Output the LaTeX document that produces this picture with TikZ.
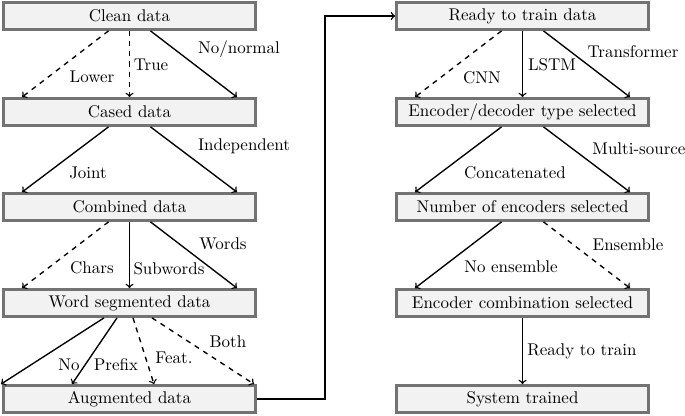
\documentclass[tikz,border=0pt]{standalone}
\usetikzlibrary{calc}

\tikzset{
  stage/.style={rectangle, draw=black!55, line width=1.6pt, fill=black!5,
    minimum width=5.22cm, minimum height=0.56cm, inner sep=2pt},
  lbl/.style={inner sep=1pt},
  flow/.style={->, thick},
}

\begin{document}
\begin{tikzpicture}[x=0.0207cm, y=-0.0207cm]
  \useasboundingbox (0,0) rectangle (685,415);

  % Preparacion de datos
  \node[stage] (clean) at (129.5,16)  {Clean data};
  \node[stage] (cased) at (129.5,112) {Cased data};
  \node[stage] (comb)  at (129.5,207) {Combined data};
  \node[stage] (seg)   at (129.5,303) {Word segmented data};
  \node[stage] (aug)   at (129.5,399) {Augmented data};

  % Entrenamiento
  \node[stage] (ready)   at (522.5,16)  {Ready to train data};
  \node[stage] (enctype) at (522.5,112) {Encoder/decoder type selected};
  \node[stage] (encnum)  at (522.5,207) {Number of encoders selected};
  \node[stage] (enccomb) at (522.5,303) {Encoder combination selected};
  \node[stage] (trained) at (522.5,399) {System trained};

  % Flechas columna izquierda
  \draw[flow, dashed] ($(clean.south)+(-21,0)$) -- ($(cased.north)+(-107.5,0)$);
  \draw[flow, dashed] (clean.south) -- (cased.north);
  \draw[flow] ($(clean.south)+(21,0)$) -- ($(cased.north)+(107.5,0)$);

  \draw[flow] ($(cased.south)+(-21,0)$) -- ($(comb.north)+(-107.5,0)$);
  \draw[flow] ($(cased.south)+(21,0)$) -- ($(comb.north)+(107.5,0)$);

  \draw[flow, dashed] ($(comb.south)+(-21,0)$) -- ($(seg.north)+(-107.5,0)$);
  \draw[flow] (comb.south) -- (seg.north);
  \draw[flow] ($(comb.south)+(21,0)$) -- ($(seg.north)+(107.5,0)$);

  \draw[flow] ($(seg.south)+(-25.5,0)$) -- ($(aug.north)+(-128.5,0)$);
  \draw[flow] ($(seg.south)+(-12.5,0)$) -- ($(aug.north)+(-57.5,0)$);
  \draw[flow, dashed] ($(seg.south)+(3.5,0)$) -- ($(aug.north)+(24.5,0)$);
  \draw[flow, dashed] ($(seg.south)+(22.5,0)$) -- ($(aug.north)+(124.5,0)$);

  % Conexion entre columnas
  \coordinate (turn) at (325,399);
  \draw[flow] (aug.east) -- (turn) |- (ready.west);

  % Flechas columna derecha
  \draw[flow, dashed] ($(ready.south)+(-21,0)$) -- ($(enctype.north)+(-107.5,0)$);
  \draw[flow] (ready.south) -- (enctype.north);
  \draw[flow] ($(ready.south)+(21,0)$) -- ($(enctype.north)+(107.5,0)$);

  \draw[flow] ($(enctype.south)+(-21,0)$) -- ($(encnum.north)+(-107.5,0)$);
  \draw[flow] ($(enctype.south)+(21,0)$) -- ($(encnum.north)+(107.5,0)$);

  \draw[flow] ($(encnum.south)+(-21,0)$) -- ($(enccomb.north)+(-107.5,0)$);
  \draw[flow, dashed] ($(encnum.south)+(21,0)$) -- ($(enccomb.north)+(107.5,0)$);

  \draw[flow] (enccomb.south) -- (trained.north);

  % Etiquetas
  \node[lbl] (lLower)  at (92,77)   {Lower};
  \node[lbl] (lTrue)   at (151,65)  {True};
  \node[lbl] (lNormal) at (239,49)  {No/normal};
  \node[lbl] (lJoint)  at (88,173)  {Joint};
  \node[lbl] (lIndep)  at (244,146) {Independent};
  \node[lbl] (lChars)  at (92,268)  {Chars};
  \node[lbl] (lSub)    at (169,269) {Subwords};
  \node[lbl] (lWords)  at (223,244) {Words};
  \node[lbl] (lBoth)   at (228,342) {Both};
  \node[lbl] (lFeat)   at (174,358) {Feat.};
  \node[lbl] (lPrefix) at (116,365) {Prefix};
  \node[lbl] (lNo)     at (69,365)  {No};
  \node[lbl] (lCNN)    at (482,78)  {CNN};
  \node[lbl] (lLSTM)   at (552,65)  {LSTM};
  \node[lbl] (lTrans)  at (633,52)  {Transformer};
  \node[lbl] (lConcat) at (515,173) {Concatenated};
  \node[lbl] (lMulti)  at (639,149) {Multi-source};
  \node[lbl] (lEns)    at (628,245) {Ensemble};
  \node[lbl] (lNoEns)  at (511,267) {No ensemble};
  \node[lbl] (lReady)  at (582,351) {Ready to train};
\end{tikzpicture}
\end{document}
